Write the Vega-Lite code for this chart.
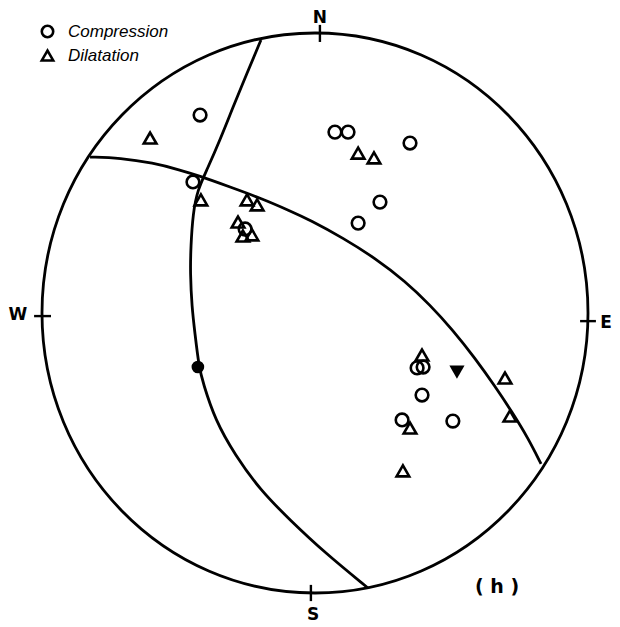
{
  "$schema": "https://vega.github.io/schema/vega-lite/v6.json",
  "width": 546,
  "height": 560,
  "autosize": {"type": "none"},
  "padding": {"left": 42, "top": 33, "right": 32, "bottom": 34},
  "background": "white",
  "config": {"view": {"stroke": null}},
  "datasets": {
    "outline": [{"x": 0, "y": 0}],
    "planes": [
      {"plane": "A", "i": 1, "x": -0.198, "y": 0.975},
      {"plane": "A", "i": 2, "x": -0.249, "y": 0.857},
      {"plane": "A", "i": 3, "x": -0.300, "y": 0.736},
      {"plane": "A", "i": 4, "x": -0.348, "y": 0.618},
      {"plane": "A", "i": 5, "x": -0.396, "y": 0.511},
      {"plane": "A", "i": 6, "x": -0.430, "y": 0.440},
      {"plane": "A", "i": 7, "x": -0.447, "y": 0.357},
      {"plane": "A", "i": 8, "x": -0.455, "y": 0.236},
      {"plane": "A", "i": 9, "x": -0.457, "y": 0.143},
      {"plane": "A", "i": 10, "x": -0.451, "y": 0.021},
      {"plane": "A", "i": 11, "x": -0.440, "y": -0.071},
      {"plane": "A", "i": 12, "x": -0.425, "y": -0.193},
      {"plane": "A", "i": 13, "x": -0.410, "y": -0.250},
      {"plane": "A", "i": 14, "x": -0.366, "y": -0.382},
      {"plane": "A", "i": 15, "x": -0.293, "y": -0.507},
      {"plane": "A", "i": 16, "x": -0.201, "y": -0.632},
      {"plane": "A", "i": 17, "x": -0.092, "y": -0.739},
      {"plane": "A", "i": 18, "x": 0.037, "y": -0.857},
      {"plane": "A", "i": 19, "x": 0.194, "y": -0.982},
      {"plane": "B", "i": 1, "x": -0.824, "y": 0.557},
      {"plane": "B", "i": 2, "x": -0.714, "y": 0.554},
      {"plane": "B", "i": 3, "x": -0.593, "y": 0.536},
      {"plane": "B", "i": 4, "x": -0.495, "y": 0.511},
      {"plane": "B", "i": 5, "x": -0.421, "y": 0.489},
      {"plane": "B", "i": 6, "x": -0.311, "y": 0.450},
      {"plane": "B", "i": 7, "x": -0.201, "y": 0.411},
      {"plane": "B", "i": 8, "x": -0.092, "y": 0.365},
      {"plane": "B", "i": 9, "x": -0.018, "y": 0.332},
      {"plane": "B", "i": 10, "x": 0.103, "y": 0.268},
      {"plane": "B", "i": 11, "x": 0.220, "y": 0.196},
      {"plane": "B", "i": 12, "x": 0.330, "y": 0.114},
      {"plane": "B", "i": 13, "x": 0.421, "y": 0.029},
      {"plane": "B", "i": 14, "x": 0.505, "y": -0.061},
      {"plane": "B", "i": 15, "x": 0.586, "y": -0.161},
      {"plane": "B", "i": 16, "x": 0.659, "y": -0.261},
      {"plane": "B", "i": 17, "x": 0.722, "y": -0.354},
      {"plane": "B", "i": 18, "x": 0.780, "y": -0.446},
      {"plane": "B", "i": 19, "x": 0.828, "y": -0.539}
    ],
    "ticks": [
      {"dir": "N", "x": 0.018, "y": 1.029, "x2": 0.018, "y2": 0.968},
      {"dir": "S", "x": -0.015, "y": -0.971, "x2": -0.015, "y2": -1.029},
      {"dir": "W", "x": -1.029, "y": -0.011, "x2": -0.967, "y2": -0.011},
      {"dir": "E", "x": 0.971, "y": -0.029, "x2": 1.029, "y2": -0.029}
    ],
    "polarity": [
      {"polarity": "Compression", "x": -0.421, "y": 0.707},
      {"polarity": "Compression", "x": -0.447, "y": 0.468},
      {"polarity": "Compression", "x": 0.073, "y": 0.646},
      {"polarity": "Compression", "x": 0.121, "y": 0.646},
      {"polarity": "Compression", "x": 0.348, "y": 0.607},
      {"polarity": "Compression", "x": 0.238, "y": 0.396},
      {"polarity": "Compression", "x": 0.158, "y": 0.321},
      {"polarity": "Compression", "x": -0.256, "y": 0.300},
      {"polarity": "Compression", "x": 0.374, "y": -0.196},
      {"polarity": "Compression", "x": 0.396, "y": -0.193},
      {"polarity": "Compression", "x": 0.392, "y": -0.293},
      {"polarity": "Compression", "x": 0.319, "y": -0.382},
      {"polarity": "Compression", "x": 0.505, "y": -0.386},
      {"polarity": "Dilatation", "x": -0.604, "y": 0.625},
      {"polarity": "Dilatation", "x": -0.418, "y": 0.404},
      {"polarity": "Dilatation", "x": 0.158, "y": 0.571},
      {"polarity": "Dilatation", "x": 0.216, "y": 0.554},
      {"polarity": "Dilatation", "x": -0.249, "y": 0.404},
      {"polarity": "Dilatation", "x": -0.212, "y": 0.386},
      {"polarity": "Dilatation", "x": -0.282, "y": 0.325},
      {"polarity": "Dilatation", "x": -0.264, "y": 0.275},
      {"polarity": "Dilatation", "x": -0.231, "y": 0.279},
      {"polarity": "Dilatation", "x": 0.392, "y": -0.150},
      {"polarity": "Dilatation", "x": 0.696, "y": -0.232},
      {"polarity": "Dilatation", "x": 0.714, "y": -0.368},
      {"polarity": "Dilatation", "x": 0.348, "y": -0.411},
      {"polarity": "Dilatation", "x": 0.322, "y": -0.564}
    ],
    "axes": [
      {"axis": "P", "x": -0.429, "y": -0.193},
      {"axis": "T", "x": 0.520, "y": -0.211}
    ],
    "labels": [
      {"text": "N", "x": 0.018, "y": 1.052},
      {"text": "W", "x": -1.088, "y": -0.007},
      {"text": "E", "x": 1.066, "y": -0.036},
      {"text": "S", "x": -0.007, "y": -1.079}
    ],
    "panel": [{"text": "( h )", "x": 0.667, "y": -0.979}]
  },
  "layer": [
    {
      "data": {"name": "outline"},
      "mark": {
        "type": "point",
        "shape": "M-0.975,0A0.975,1,0,1,0,0.975,0A0.975,1,0,1,0,-0.975,0Z",
        "size": 313600,
        "filled": false,
        "stroke": "black",
        "strokeWidth": 2.8,
        "opacity": 1
      },
      "encoding": {
        "x": {"field": "x", "type": "quantitative", "scale": {"domain": [-1, 1], "nice": false}, "axis": null},
        "y": {"field": "y", "type": "quantitative", "scale": {"domain": [-1, 1], "nice": false}, "axis": null}
      }
    },
    {
      "data": {"name": "planes"},
      "mark": {"type": "line", "color": "black", "strokeWidth": 2.8, "interpolate": "basis"},
      "encoding": {
        "x": {"field": "x", "type": "quantitative", "scale": {"domain": [-1, 1], "nice": false}, "axis": null},
        "y": {"field": "y", "type": "quantitative", "scale": {"domain": [-1, 1], "nice": false}, "axis": null},
        "detail": {"field": "plane"},
        "order": {"field": "i", "type": "quantitative"}
      }
    },
    {
      "data": {"name": "ticks"},
      "mark": {"type": "rule", "color": "black", "strokeWidth": 2.4},
      "encoding": {
        "x": {"field": "x", "type": "quantitative", "scale": {"domain": [-1, 1], "nice": false}, "axis": null},
        "y": {"field": "y", "type": "quantitative", "scale": {"domain": [-1, 1], "nice": false}, "axis": null},
        "x2": {"field": "x2"},
        "y2": {"field": "y2"}
      }
    },
    {
      "data": {"name": "polarity"},
      "mark": {"type": "point", "filled": false, "color": "black", "strokeWidth": 2.6, "size": 160, "opacity": 1},
      "encoding": {
        "x": {"field": "x", "type": "quantitative", "scale": {"domain": [-1, 1], "nice": false}, "axis": null},
        "y": {"field": "y", "type": "quantitative", "scale": {"domain": [-1, 1], "nice": false}, "axis": null},
        "shape": {
          "field": "polarity",
          "type": "nominal",
          "scale": {"domain": ["Compression", "Dilatation"], "range": ["circle", "triangle-up"]},
          "legend": {
            "title": null,
            "orient": "none",
            "legendX": -3,
            "legendY": -10,
            "padding": 0,
            "rowPadding": 2,
            "labelOffset": 12,
            "labelFont": "Liberation Sans",
            "labelFontSize": 17,
            "labelFontStyle": "italic",
            "labelColor": "black",
            "symbolSize": 130,
            "symbolStrokeWidth": 2.6,
            "symbolStrokeColor": "black",
            "symbolFillColor": "transparent"
          }
        }
      }
    },
    {
      "data": {"name": "axes"},
      "transform": [{"filter": "datum.axis === 'P'"}],
      "mark": {"type": "point", "shape": "circle", "filled": true, "color": "black", "size": 160, "opacity": 1},
      "encoding": {
        "x": {"field": "x", "type": "quantitative", "scale": {"domain": [-1, 1], "nice": false}, "axis": null},
        "y": {"field": "y", "type": "quantitative", "scale": {"domain": [-1, 1], "nice": false}, "axis": null}
      }
    },
    {
      "data": {"name": "axes"},
      "transform": [{"filter": "datum.axis === 'T'"}],
      "mark": {"type": "point", "shape": "triangle-down", "filled": true, "color": "black", "size": 230, "opacity": 1},
      "encoding": {
        "x": {"field": "x", "type": "quantitative", "scale": {"domain": [-1, 1], "nice": false}, "axis": null},
        "y": {"field": "y", "type": "quantitative", "scale": {"domain": [-1, 1], "nice": false}, "axis": null}
      }
    },
    {
      "data": {"name": "labels"},
      "mark": {"type": "text", "font": "DejaVu Sans", "fontSize": 17, "fontWeight": "bold", "color": "black", "align": "center", "baseline": "middle"},
      "encoding": {
        "x": {"field": "x", "type": "quantitative", "scale": {"domain": [-1, 1], "nice": false}, "axis": null},
        "y": {"field": "y", "type": "quantitative", "scale": {"domain": [-1, 1], "nice": false}, "axis": null},
        "text": {"field": "text"}
      }
    },
    {
      "data": {"name": "panel"},
      "mark": {"type": "text", "font": "DejaVu Sans", "fontSize": 19, "fontWeight": "bold", "color": "black", "align": "center", "baseline": "middle"},
      "encoding": {
        "x": {"field": "x", "type": "quantitative", "scale": {"domain": [-1, 1], "nice": false}, "axis": null},
        "y": {"field": "y", "type": "quantitative", "scale": {"domain": [-1, 1], "nice": false}, "axis": null},
        "text": {"field": "text"}
      }
    }
  ]
}
